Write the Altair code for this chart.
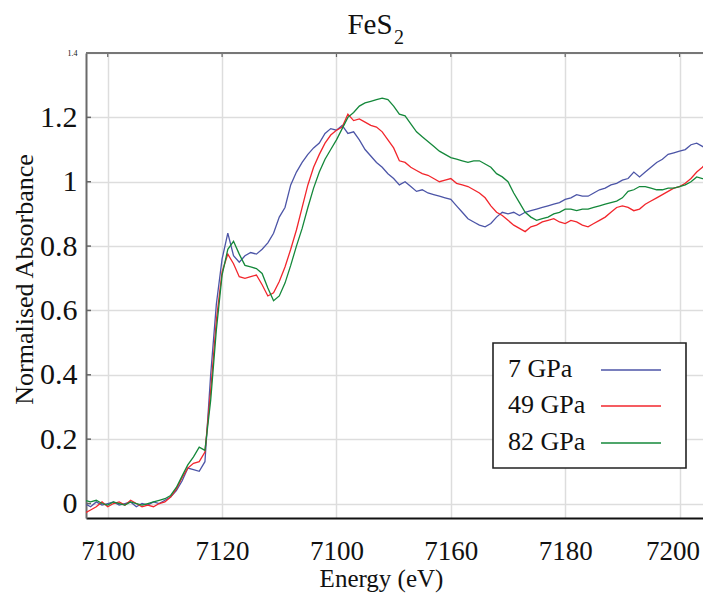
import altair as alt
import pandas as pd

energy = list(range(7096, 7206))

abs_7gpa = [
    0.00, -0.01, 0.005, -0.005, 0.0, 0.005, -0.005, 0.0, 0.005, -0.01,
    0.0, -0.005, 0.005, 0.0, 0.01, 0.02, 0.04, 0.07, 0.11, 0.105,
    0.10, 0.13, 0.40, 0.62, 0.76, 0.84, 0.77, 0.75, 0.77, 0.78,
    0.775, 0.79, 0.81, 0.84, 0.89, 0.92, 0.99, 1.03, 1.06, 1.085,
    1.105, 1.12, 1.15, 1.165, 1.16, 1.175, 1.15, 1.155, 1.13, 1.10,
    1.08, 1.06, 1.045, 1.025, 1.01, 0.99, 1.0, 0.985, 0.97, 0.975,
    0.965, 0.96, 0.955, 0.95, 0.945, 0.925, 0.905, 0.885, 0.875, 0.865,
    0.86, 0.87, 0.89, 0.905, 0.90, 0.905, 0.895, 0.905, 0.91, 0.915,
    0.92, 0.925, 0.93, 0.935, 0.945, 0.95, 0.96, 0.955, 0.955, 0.965,
    0.975, 0.98, 0.99, 0.995, 1.005, 1.01, 1.03, 1.015, 1.03, 1.045,
    1.06, 1.07, 1.085, 1.09, 1.095, 1.10, 1.115, 1.12, 1.11, 1.10,
]

abs_49gpa = [
    -0.03, -0.02, -0.01, 0.005, -0.01, 0.0, 0.005, -0.005, 0.01, 0.0,
    -0.01, -0.005, -0.01, 0.0, 0.005, 0.02, 0.045, 0.08, 0.11, 0.125,
    0.13, 0.16, 0.35, 0.57, 0.72, 0.775, 0.745, 0.705, 0.70, 0.705,
    0.71, 0.68, 0.645, 0.655, 0.69, 0.735, 0.79, 0.85, 0.92, 0.99,
    1.045, 1.085, 1.12, 1.145, 1.16, 1.17, 1.21, 1.19, 1.195, 1.185,
    1.175, 1.17, 1.155, 1.13, 1.105, 1.065, 1.06, 1.045, 1.035, 1.025,
    1.02, 1.01, 1.0, 1.005, 1.01, 0.995, 0.99, 0.985, 0.975, 0.965,
    0.95, 0.925, 0.905, 0.895, 0.88, 0.865, 0.855, 0.845, 0.86, 0.865,
    0.875, 0.88, 0.885, 0.875, 0.87, 0.88, 0.875, 0.865, 0.86, 0.87,
    0.88, 0.89, 0.905, 0.92, 0.925, 0.92, 0.91, 0.915, 0.93, 0.94,
    0.95, 0.96, 0.97, 0.98, 0.985, 0.995, 1.01, 1.03, 1.045, 1.065,
]

abs_82gpa = [
    0.01, 0.005, 0.01, 0.0, -0.005, 0.005, 0.0, -0.005, 0.005, 0.0,
    -0.005, 0.0, 0.005, 0.01, 0.015, 0.025, 0.05, 0.085, 0.12, 0.145,
    0.175, 0.165, 0.32, 0.54, 0.71, 0.79, 0.815, 0.775, 0.74, 0.735,
    0.73, 0.715, 0.67, 0.63, 0.645, 0.685, 0.74, 0.80, 0.855, 0.92,
    0.98, 1.03, 1.07, 1.10, 1.13, 1.165, 1.20, 1.215, 1.235, 1.245,
    1.25, 1.255, 1.26, 1.255, 1.235, 1.21, 1.205, 1.18, 1.155, 1.14,
    1.125, 1.11, 1.095, 1.085, 1.075, 1.07, 1.065, 1.06, 1.065, 1.065,
    1.055, 1.045, 1.025, 1.015, 1.0, 0.965, 0.935, 0.905, 0.89, 0.88,
    0.885, 0.89, 0.9, 0.905, 0.915, 0.915, 0.91, 0.915, 0.915, 0.92,
    0.925, 0.93, 0.935, 0.94, 0.95, 0.97, 0.975, 0.985, 0.985, 0.98,
    0.975, 0.975, 0.98, 0.98, 0.985, 0.99, 1.0, 1.015, 1.01, 1.005,
]

series_labels = ["7 GPa", "49 GPa", "82 GPa"]
series_colors = ["#4c55a7", "#f2262c", "#14883a"]
x_ticks = [7100, 7120, 7140, 7160, 7180, 7200]
y_ticks = [0, 0.2, 0.4, 0.6, 0.8, 1.0, 1.2, 1.4]

FONT = "Liberation Serif"
W, H = 617, 465
X_DOMAIN = [7096.2, 7204.1]
Y_DOMAIN = [-0.045, 1.4]

rows = []
for lab, vals in zip(series_labels, [abs_7gpa, abs_49gpa, abs_82gpa]):
    for e, v in zip(energy, vals):
        rows.append({"energy": e, "value": v, "pressure": lab})
df = pd.DataFrame(rows)

x_axis = alt.Axis(
    values=x_ticks, format="d",
    labelExpr="datum.value == 7140 ? '7100' : datum.label",
    labelFont=FONT, labelFontSize=27, labelColor="#111", labelPadding=20,
    labelOffset={"condition": {"test": "datum.value == 7200", "value": -7}, "value": 0},
    labelFlush=False,
    ticks=False, domainColor="#111", domainWidth=2,
    grid=True, gridColor="#dddddd", gridWidth=1.5,
    title="Energy (eV)", titleFont=FONT, titleFontSize=25, titleFontWeight="normal",
    titleColor="#111", titleX=295, titleY=68, titleBaseline="alphabetic",
    titleAnchor="start", titleAlign="center",
)
y_axis = alt.Axis(
    values=y_ticks, format="~g",
    labelFont=FONT,
    labelFontSize={"condition": {"test": "datum.value > 1.3", "value": 8}, "value": 30},
    labelColor="#111", labelPadding=9,
    ticks=False, domainColor="#6a6a6a", domainWidth=2,
    grid=True, gridColor="#dddddd", gridWidth=1.5,
    title="Normalised Absorbance", titleFont=FONT, titleFontSize=26, titleFontWeight="normal",
    titleColor="#111", titleX=-54, titleY=226, titleBaseline="alphabetic",
    titleAnchor="start", titleAlign="center", titleAngle=270,
)

x_scale = alt.Scale(domain=X_DOMAIN, nice=False, zero=False)
y_scale = alt.Scale(domain=Y_DOMAIN, nice=False, zero=False)

lines = alt.Chart(df).mark_line(strokeWidth=1.3, clip=True).encode(
    x=alt.X("energy:Q", scale=x_scale, axis=x_axis),
    y=alt.Y("value:Q", scale=y_scale, axis=y_axis),
    color=alt.Color("pressure:N", scale=alt.Scale(domain=series_labels, range=series_colors), legend=None),
    order="energy:Q",
)

# small inward ticks on the left and top frame
ytick_df = pd.DataFrame({"value": y_ticks[:-1]})
xtick_df = pd.DataFrame({"energy": x_ticks})
left_ticks = alt.Chart(ytick_df).mark_rule(color="#666", strokeWidth=1.5).encode(
    y=alt.Y("value:Q", scale=y_scale, axis=y_axis), x=alt.value(0), x2=alt.value(5)
)
top_ticks = alt.Chart(xtick_df).mark_rule(color="#666", strokeWidth=1.2).encode(
    x=alt.X("energy:Q", scale=x_scale, axis=x_axis), y=alt.value(0), y2=alt.value(4)
)

top_border = alt.Chart(pd.DataFrame({"a": [0]})).mark_rule(color="#777", strokeWidth=2).encode(
    x=alt.value(0), x2=alt.value(W), y=alt.value(0)
)

legend_df = pd.DataFrame({
    "label": series_labels,
    "color": series_colors,
    "ypos": [317, 353, 390],
})
legend_box = alt.Chart(pd.DataFrame({"a": [0]})).mark_rect(
    fill="white", stroke="#222", strokeWidth=1.6
).encode(x=alt.value(407), x2=alt.value(600), y=alt.value(290), y2=alt.value(415))
legend_text = alt.Chart(legend_df).mark_text(
    align="left", baseline="alphabetic", dy=7, font=FONT, fontSize=26, color="#111"
).encode(x=alt.value(422), y=alt.Y("ypos:Q", scale=None), text="label:N")
legend_lines = alt.Chart(legend_df).mark_rule(strokeWidth=1.6).encode(
    x=alt.value(515), x2=alt.value(575), y=alt.Y("ypos:Q", scale=None),
    color=alt.Color("color:N", scale=None),
)

title_main = alt.Chart(pd.DataFrame({"a": [0]})).mark_text(
    align="center", baseline="alphabetic", font=FONT, fontSize=29, color="#111"
).encode(x=alt.value(284), y=alt.value(-19), text=alt.value("FeS"))
title_sub = alt.Chart(pd.DataFrame({"a": [0]})).mark_text(
    align="left", baseline="alphabetic", font=FONT, fontSize=20, color="#111"
).encode(x=alt.value(308), y=alt.value(-9), text=alt.value("2"))

chart = alt.layer(
    lines, left_ticks, top_ticks, top_border, legend_box, legend_lines, legend_text,
    title_main, title_sub
).properties(
    width=W, height=H, autosize="none",
    padding={"left": 78, "top": 45, "right": 0, "bottom": 77},
).configure_view(stroke=None).configure(background="white")

chart.save("out.html", embed_options={"renderer": "svg", "actions": False})
